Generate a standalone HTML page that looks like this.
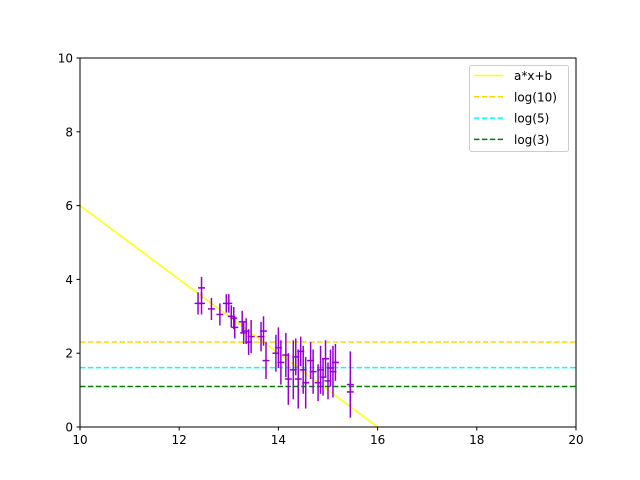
<!DOCTYPE html>
<html><head><meta charset="utf-8"><style>
html,body{margin:0;padding:0;background:#fff;width:640px;height:480px;overflow:hidden}
svg{display:block}
svg text{font-family:"DejaVu Sans","Liberation Sans",sans-serif;font-size:12px;fill:#000}
</style></head><body>
<svg id="chart" width="640" height="480" xmlns="http://www.w3.org/2000/svg">
<rect width="640" height="480" fill="#fff"/>
<g id="plot"></g>
</svg>
<script>
const xTicks=[10,12,14,16,18,20];
const yTicks=[0,2,4,6,8,10];
const ptX=[12.38,12.45,12.45,12.65,12.82,12.95,13.0,13.05,13.1,13.12,13.27,13.3,13.35,13.4,13.45,13.65,13.7,13.75,13.95,14.0,14.05,14.15,14.2,14.3,14.35,14.4,14.45,14.5,14.55,14.65,14.7,14.8,14.85,14.9,14.95,15.0,15.05,15.1,15.15,15.45,15.45];
const ptY=[3.35,3.35,3.77,3.2,3.05,3.35,3.35,3.0,2.95,2.7,2.85,2.55,2.6,2.3,2.45,2.45,2.6,1.8,2.0,2.15,1.75,1.95,1.3,1.55,1.9,1.3,2.05,1.55,1.2,1.8,1.5,1.2,1.55,1.35,1.85,1.25,1.6,1.5,1.75,1.15,0.95];
const ptErr=[0.3,0.3,0.3,0.3,0.3,0.25,0.25,0.3,0.3,0.3,0.3,0.3,0.35,0.35,0.45,0.4,0.4,0.5,0.5,0.55,0.6,0.6,0.7,0.8,0.5,0.8,0.4,0.65,0.7,0.5,0.6,0.5,0.65,0.5,0.5,0.5,0.5,0.7,0.5,0.9,0.4];
const xErr=0.07;
const fitA=-1, fitB=16;
const hLines=[Math.log(10),Math.log(5),Math.log(3)];
const hColors=["#ffd700","#00ffff","#008000"];
const legendLabels=["a*x+b","log(10)","log(5)","log(3)"];

const L=80,R=576,T=58,B=427;
const sx=v=>L+(v-10)/(20-10)*(R-L);
const sy=v=>B-(v-0)/(10-0)*(B-T);
const NS="http://www.w3.org/2000/svg";
const g=document.getElementById('plot');
function mk(t,a,p){const e=document.createElementNS(NS,t);for(const k in a)e.setAttribute(k,a[k]);(p||g).appendChild(e);return e;}

const defs=mk('defs',{});const cp=mk('clipPath',{id:'c'},defs);mk('rect',{x:L,y:T,width:R-L,height:B-T},cp);
const inner=mk('g',{'clip-path':'url(#c)'});

let el=mk('line',{x1:sx(10),y1:sy(fitA*10+fitB),x2:sx(20),y2:sy(fitA*20+fitB),stroke:'#ffff00','stroke-width':1.5},inner);



hLines.forEach((v,i)=>{
 const l=mk('line',{x1:L,x2:R,y1:sy(v),y2:sy(v),stroke:hColors[i],'stroke-width':1.5,'stroke-dasharray':'5.5,2.4'},inner);
 
 
});

ptX.forEach((x,i)=>{
 const y=ptY[i],e=ptErr[i];
 const gg=mk('g',{stroke:'#9400d3','stroke-width':1.5},inner);
 
 
 mk('line',{x1:sx(x),x2:sx(x),y1:sy(y-e),y2:sy(y+e)},gg);
 mk('line',{x1:sx(x-xErr),x2:sx(x+xErr),y1:sy(y),y2:sy(y)},gg);
});

el=mk('rect',{x:L,y:T,width:R-L,height:B-T,fill:'none',stroke:'#000','stroke-width':1});



xTicks.forEach(v=>{
 mk('line',{x1:sx(v),x2:sx(v),y1:B,y2:B+3.5,stroke:'#000'});
 const t=mk('text',{x:sx(v),y:B+17,'text-anchor':'middle'});t.textContent=v;
 
 
});
yTicks.forEach(v=>{
 mk('line',{x1:L-3.5,x2:L,y1:sy(v),y2:sy(v),stroke:'#000'});
 const t=mk('text',{x:L-7,y:sy(v)+4.5,'text-anchor':'end'});t.textContent=v;
 
 
});

const lg=mk('g',{});


mk('rect',{x:469.5,y:65.5,width:99,height:86,rx:2,fill:'#fff',stroke:'#ccc'},lg);
const lc=['#ffff00'].concat(hColors);
legendLabels.forEach((s,i)=>{
 const y=75.5+i*21.3;
 const e=mk('g',{},lg);
 
 
 const a={x1:474,x2:503,y1:y,y2:y,stroke:lc[i],'stroke-width':1.5};
 if(i>0)a['stroke-dasharray']='5.5,2.4';
 mk('line',a,e);
 const t=mk('text',{x:514,y:y+4.5},e);t.textContent=s;
});
</script>
</body></html>
